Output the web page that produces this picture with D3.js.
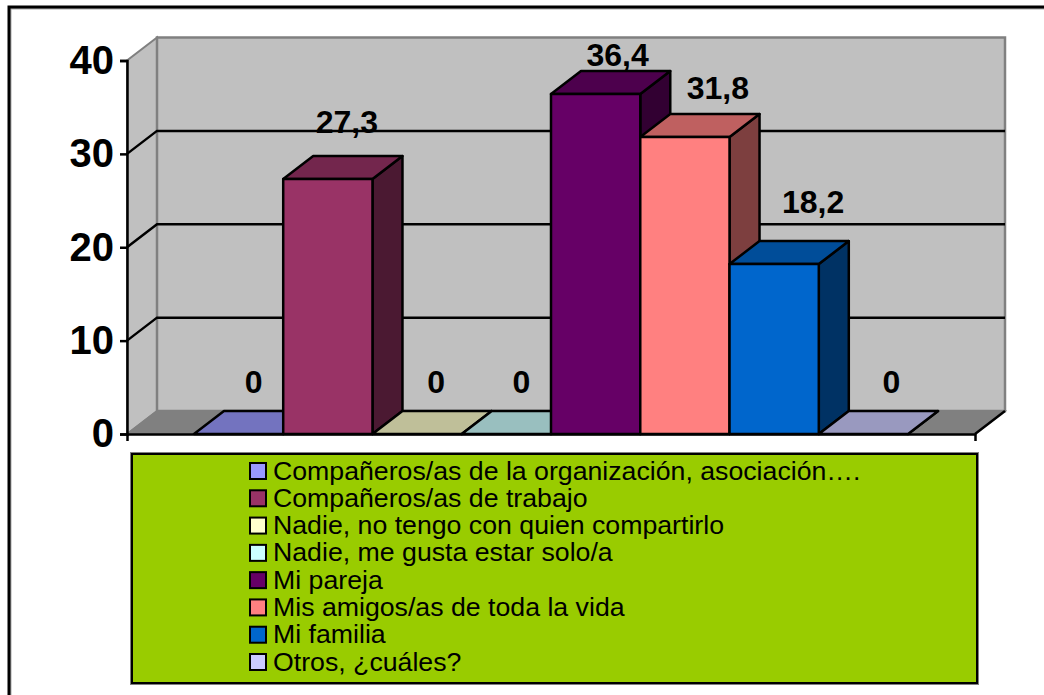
<!DOCTYPE html>
<html>
<head>
<meta charset="utf-8">
<script src="https://cdn.jsdelivr.net/npm/d3@7"></script>
<style>
  html, body { margin: 0; background: #fff; }
  svg { display: block; font-family: 'Liberation Sans', Arial, sans-serif; }
</style>
</head>
<body>
<div id="chart"></div>
<script>
// chart values
const categories = [
  'Compañeros/as de la organización, asociación….',
  'Compañeros/as de trabajo',
  'Nadie, no tengo con quien compartirlo',
  'Nadie, me gusta estar solo/a',
  'Mi pareja',
  'Mis amigos/as de toda la vida',
  'Mi familia',
  'Otros, ¿cuáles?'
];
const values = [0, 27.3, 0, 0, 36.4, 31.8, 18.2, 0];
const colors = ['#9999ff', '#993366', '#ffffcc', '#ccffff', '#660066', '#ff8080', '#0066cc', '#ccccff'];
const yTicks = [0, 10, 20, 30, 40];
const gridTicks = [10, 20, 30];

// hand placed data labels, offset from the bar's front top centre
const labelNudgeX = [15, 19, 19, 15, 22, 33, 39, 28];
const labelNudgeY = [-41, -46, -41, -41, -28, -38, -51, -41];

const W = 1044, H = 695;
const DX = 30, DY = -23; // 3d depth

const svg = d3.select('#chart').append('svg').attr('width', W).attr('height', H);

const x = d3.scaleBand().domain(categories).range([127, 975]).paddingInner(0).paddingOuter(0.75);
const y = d3.scaleLinear().domain([0, 40]).range([434, 60.5]);
const fmt = d3.formatLocale({ decimal: ',', thousands: '.', grouping: [3], currency: ['', '€'] }).format('.1~f');

const poly = pts => 'M' + pts.map(p => p.join(',')).join('L') + 'Z';
const x0 = x.range()[0], x1 = x.range()[1];

// outer frame, open on the right
svg.append('path').attr('d', `M10,${H}V8H${W}`).attr('fill', 'none').attr('stroke', '#aaa').attr('stroke-width', 3);
svg.append('path').attr('d', `M9,${H}V7H${W}`).attr('fill', 'none').attr('stroke', '#000').attr('stroke-width', 3);

// walls and floor
const walls = svg.append('g');
walls.append('path')
  .attr('d', poly([[x0, y(0)], [x0, y(40)], [x0 + DX, y(40) + DY], [x0 + DX, y(0) + DY]]))
  .attr('fill', '#c0c0c0').attr('stroke', '#808080').attr('stroke-width', 2);
walls.append('rect')
  .attr('x', x0 + DX).attr('y', y(40) + DY)
  .attr('width', x1 - x0).attr('height', y(0) - y(40))
  .attr('fill', '#c0c0c0').attr('stroke', '#808080').attr('stroke-width', 2.5);
walls.append('path')
  .attr('d', poly([[x0, y(0)], [x1, y(0)], [x1 + DX, y(0) + DY], [x0 + DX, y(0) + DY]]))
  .attr('fill', '#808080').attr('stroke', '#808080').attr('stroke-width', 1.5);
walls.append('line')
  .attr('x1', x1).attr('y1', y(0)).attr('x2', x1 + DX).attr('y2', y(0) + DY)
  .attr('stroke', '#000').attr('stroke-width', 2.5);

// gridlines on the back and side wall
svg.append('g').selectAll('path').data(gridTicks).join('path')
  .attr('d', d => `M${x0},${y(d)}L${x0 + DX},${y(d) + DY}H${x1 + DX}`)
  .attr('fill', 'none').attr('stroke', '#000').attr('stroke-width', 2.5);

// bars
const bars = svg.append('g').selectAll('g')
  .data(categories.map((c, i) => ({ c, v: values[i], col: colors[i] })))
  .join('g')
  .attr('stroke', '#000').attr('stroke-width', 2.5).attr('stroke-linejoin', 'round');

bars.append('path') // side
  .attr('d', d => {
    const r = x(d.c) + x.bandwidth();
    return poly([[r, y(d.v)], [r + DX, y(d.v) + DY], [r + DX, y(0) + DY], [r, y(0)]]);
  })
  .attr('fill', d => d3.rgb(d.col).darker(2));
bars.append('path') // top
  .attr('d', d => {
    const l = x(d.c), r = l + x.bandwidth();
    return poly([[l, y(d.v)], [r, y(d.v)], [r + DX, y(d.v) + DY], [l + DX, y(d.v) + DY]]);
  })
  .attr('fill', d => { const c = d3.rgb(d.col); return d3.rgb(c.r * 0.75, c.g * 0.75, c.b * 0.75); });
bars.filter(d => d.v > 0).append('rect') // front
  .attr('x', d => x(d.c)).attr('y', d => y(d.v))
  .attr('width', x.bandwidth()).attr('height', d => y(0) - y(d.v))
  .attr('fill', d => d.col);

// axes
const yAxis = svg.append('g').attr('transform', `translate(${x0},0)`)
  .call(d3.axisLeft(y).tickValues(yTicks).tickSizeOuter(0).tickSize(7).tickPadding(6));
yAxis.selectAll('text').attr('font-size', 40).attr('font-weight', 700).attr('fill', '#000').attr('font-family', 'Liberation Sans');
yAxis.selectAll('line, path').attr('stroke', '#000').attr('stroke-width', 2.5);

const xAxis = svg.append('g').attr('transform', `translate(0,${y(0)})`)
  .call(d3.axisBottom(x).tickValues([]).tickSizeOuter(7));
xAxis.selectAll('path').attr('stroke', '#000').attr('stroke-width', 2.5);

// data labels
svg.append('g').selectAll('text').data(values).join('text')
  .attr('x', (d, i) => x(categories[i]) + x.bandwidth() / 2 + labelNudgeX[i])
  .attr('y', (d, i) => y(d) + labelNudgeY[i])
  .attr('text-anchor', 'middle')
  .attr('font-size', 32).attr('font-weight', 700).attr('fill', '#000')
  .text(d => fmt(d));

// legend
const legendBox = { x: 132, y: 454, w: 845, h: 229 };
const legend = svg.append('g');
legend.append('rect')
  .attr('x', legendBox.x - 1).attr('y', legendBox.y - 1)
  .attr('width', legendBox.w + 2).attr('height', legendBox.h + 2)
  .attr('fill', 'none').attr('stroke', '#808080').attr('stroke-width', 2);
legend.append('rect')
  .attr('x', legendBox.x).attr('y', legendBox.y)
  .attr('width', legendBox.w).attr('height', legendBox.h)
  .attr('fill', '#99cc00').attr('stroke', '#000').attr('stroke-width', 2);

const rowY = d3.scalePoint().domain(categories).range([471, 662]);
const rows = legend.selectAll('g.row').data(categories).join('g')
  .attr('class', 'row')
  .attr('transform', d => `translate(250,${rowY(d)})`);
rows.append('rect')
  .attr('x', 0).attr('y', -8).attr('width', 16).attr('height', 16)
  .attr('fill', (d, i) => colors[i]).attr('stroke', '#000').attr('stroke-width', 2);
rows.append('text')
  .attr('x', 23).attr('y', 8.5)
  .attr('font-size', 26.7).attr('fill', '#000')
  .text(d => d);
</script>
</body>
</html>
